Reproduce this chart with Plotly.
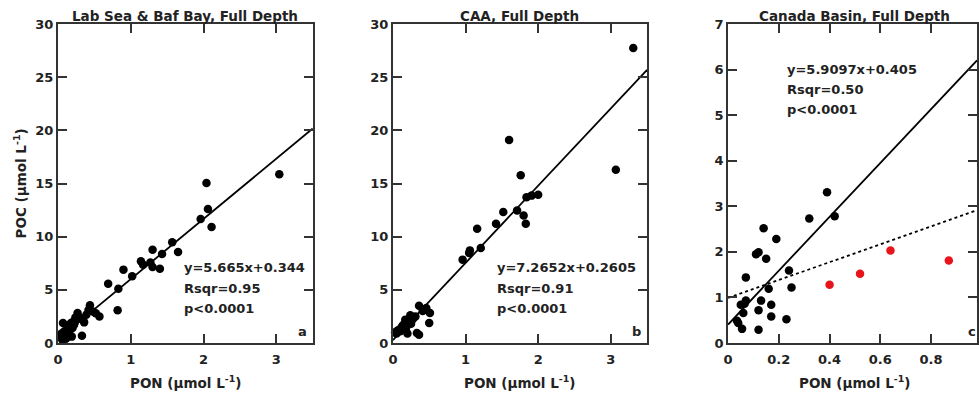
import plotly.graph_objects as go

# ---------------- data ----------------
a_pon = [2.04, 3.04, 2.06, 1.96, 2.11, 1.57, 1.43, 1.30, 1.65, 1.14,
         1.17, 1.27, 1.30, 1.40, 0.90, 1.02, 0.69, 0.83, 0.82, 0.44,
         0.48, 0.52, 0.57, 0.39, 0.36, 0.27, 0.25, 0.33, 0.18, 0.07,
         0.42, 0.31, 0.22, 0.20, 0.15, 0.12, 0.10, 0.08, 0.05, 0.14,
         0.17, 0.21, 0.24, 0.11, 0.09, 0.13, 0.16, 0.06, 0.19, 0.28,
         0.04, 0.23]
a_poc = [15.05, 15.86, 12.6, 11.66, 10.9, 9.47, 8.37, 8.78, 8.56, 7.68,
         7.37, 7.58, 7.15, 6.99, 6.9, 6.27, 5.58, 5.1, 3.07, 3.54,
         2.97, 2.8, 2.5, 2.66, 1.94, 2.82, 2.19, 0.69, 1.88, 1.88,
         3.1, 2.3, 1.7, 1.4, 1.6, 1.2, 0.8, 0.5, 0.9, 1.0,
         1.3, 2.0, 2.4, 0.4, 1.1, 0.7, 1.5, 0.3, 0.6, 2.5,
         0.6, 1.9]

b_pon = [3.31, 1.60, 1.76, 3.07, 1.84, 1.91, 2.00, 1.71, 1.52, 1.80,
         1.83, 1.42, 1.16, 1.21, 1.06, 1.05, 0.96, 0.36, 0.44, 0.51,
         0.46, 0.41, 0.50, 0.33, 0.36, 0.31, 0.27, 0.24, 0.22, 0.19,
         0.17, 0.15, 0.20, 0.12, 0.10, 0.07, 0.05, 0.03, 0.25, 0.29,
         0.18, 0.14]
b_poc = [27.75, 19.1, 15.77, 16.3, 13.7, 13.86, 13.95, 12.47, 12.32, 11.98,
         11.22, 11.22, 10.75, 8.93, 8.71, 8.47, 7.84, 3.51, 3.13, 2.82,
         3.29, 3.0, 1.88, 0.94, 0.78, 2.5, 2.2, 2.6, 1.9, 1.6,
         2.19, 1.3, 0.9, 1.5, 1.1, 1.2, 0.9, 1.0, 1.8, 2.4,
         1.4, 1.7]

c_pon = [0.39, 0.32, 0.42, 0.14, 0.19, 0.11, 0.12, 0.15, 0.24, 0.07,
         0.16, 0.25, 0.07, 0.13, 0.05, 0.065, 0.17, 0.12, 0.06, 0.17,
         0.23, 0.035, 0.04, 0.055, 0.12]
c_poc = [3.31, 2.73, 2.78, 2.52, 2.28, 1.95, 1.99, 1.85, 1.59, 1.44,
         1.19, 1.22, 0.93, 0.93, 0.84, 0.86, 0.84, 0.72, 0.66, 0.58,
         0.52, 0.49, 0.44, 0.31, 0.29]
c_red_pon = [0.40, 0.52, 0.64, 0.87]
c_red_poc = [1.28, 1.52, 2.03, 1.81]

titles = ["Lab Sea & Baf Bay, Full Depth", "CAA, Full Depth", "Canada Basin, Full Depth"]
fit_slope = [5.665, 7.2652, 5.9097]
fit_icept = [0.344, 0.2605, 0.405]
fit_text = [["y=5.665x+0.344", "Rsqr=0.95", "p<0.0001"],
            ["y=7.2652x+0.2605", "Rsqr=0.91", "p<0.0001"],
            ["y=5.9097x+0.405", "Rsqr=0.50", "p<0.0001"]]
all_slope = 1.96     # dotted fit, panel c (all points)
all_icept = 0.99
panel_letters = ["a", "b", "c"]

# ---------------- figure ----------------
W, H = 979, 393
FONT = "DejaVu Sans"
INK = "#222222"

fig = go.Figure()

xranges = [[0, 3.5], [0, 3.5], [0, 0.981]]
yranges = [[0, 30], [0, 30], [0, 7]]
domains = [[53.3 / W, 310 / W], [390.7 / W, 646.7 / W], [728.3 / W, 1.0]]

def add_fit(xr, slope, icept, xaxis, yaxis, dash="solid"):
    xs = [xr[0], xr[1]]
    ys = [slope * v + icept for v in xs]
    fig.add_trace(go.Scatter(x=xs, y=ys, mode="lines", xaxis=xaxis, yaxis=yaxis,
                             line=dict(color="black", width=1.8, dash=dash),
                             showlegend=False, hoverinfo="skip"))

def add_pts(xs, ys, xaxis, yaxis, color="black"):
    fig.add_trace(go.Scatter(x=xs, y=ys, mode="markers", xaxis=xaxis, yaxis=yaxis,
                             marker=dict(color=color, size=8.5, line=dict(width=0)),
                             cliponaxis=False, showlegend=False))

# panel a
add_fit(xranges[0], fit_slope[0], fit_icept[0], "x", "y")
add_pts(a_pon, a_poc, "x", "y")
# panel b
add_fit(xranges[1], fit_slope[1], fit_icept[1], "x2", "y2")
add_pts(b_pon, b_poc, "x2", "y2")
# panel c
add_fit(xranges[2], fit_slope[2], fit_icept[2], "x3", "y3")
add_fit(xranges[2], all_slope, all_icept, "x3", "y3", dash="dot")
add_pts(c_pon, c_poc, "x3", "y3")
add_pts(c_red_pon, c_red_poc, "x3", "y3", color="#e8141b")

tickfont = dict(family=FONT, size=13, color=INK, weight="bold")
axis_common = dict(showline=True, linecolor="#333333", linewidth=2, mirror="ticks",
                   ticks="inside", ticklen=9, tickwidth=2, tickcolor="#333333",
                   showgrid=False, zeroline=False, tickfont=tickfont)

layout = dict(width=W, height=H, margin=dict(l=0, r=0, t=24, b=50),
              paper_bgcolor="white", plot_bgcolor="white",
              font=dict(family=FONT, size=13, color=INK, weight="bold"),
              showlegend=False)
ynames = ["yaxis", "yaxis2", "yaxis3"]
xnames = ["xaxis", "xaxis2", "xaxis3"]
anchors_x = ["y", "y2", "y3"]
anchors_y = ["x", "x2", "x3"]
for i in range(3):
    layout[xnames[i]] = dict(domain=domains[i], range=xranges[i], anchor=anchors_x[i],
                             dtick=(1 if i < 2 else 0.2), ticklabelstandoff=3,
                             **axis_common)
    layout[ynames[i]] = dict(domain=[0, 1], range=yranges[i], anchor=anchors_y[i],
                             dtick=(5 if i < 2 else 1), **axis_common)
fig.update_layout(**layout)

ann = []
xr_names = ["x", "x2", "x3"]
yr_names = ["y", "y2", "y3"]
# titles and x-axis titles
for i in range(3):
    ann.append(dict(text=titles[i], xref=xr_names[i], yref="paper",
                    x=(xranges[0][1] / 2 if i < 2 else 0.5), y=1, xanchor="center",
                    yanchor="bottom", yshift=-2, showarrow=False,
                    font=dict(family=FONT, size=13.5, color=INK, weight="bold")))
    ann.append(dict(text="PON (\u03bcmol L<sup>-1</sup>)", xref=xr_names[i], yref="paper",
                    x=(xranges[0][1] / 2 if i < 2 else 0.5), y=0, yshift=-39,
                    xanchor="center", yanchor="middle", showarrow=False,
                    font=dict(family=FONT, size=13.5, color=INK, weight="bold")))
# fit stats
stat_pos = [(1.70, [7.11, 5.17, 3.29]), (1.40, [7.11, 5.17, 3.29]), (0.226, [6.0, 5.56, 5.12])]
for i in range(3):
    x0, ys = stat_pos[i]
    for j in range(3):
        ann.append(dict(text=fit_text[i][j], xref=xr_names[i], yref=yr_names[i],
                        x=x0, y=ys[j], xanchor="left", yanchor="middle", showarrow=False,
                        font=dict(family=FONT, size=13, color=INK, weight="bold")))
# panel letters
letter_x = [3.5, 3.5, 0.981]
letter_shift = [-4, -4, 1]
for i in range(3):
    ann.append(dict(text=panel_letters[i], xref=xr_names[i], yref=yr_names[i],
                    x=letter_x[i], y=yranges[i][0], xanchor="right", yanchor="bottom",
                    xshift=letter_shift[i], yshift=2, showarrow=False,
                    font=dict(family=FONT, size=13, color=INK, weight="bold")))
# y-axis title (panel a only)
ann.append(dict(text="POC (\u03bcmol L<sup>-1</sup>)", xref="paper", yref="y",
                x=15 / W, y=15, textangle=-90, xanchor="center", yanchor="middle",
                showarrow=False, font=dict(family=FONT, size=13.5, color=INK, weight="bold")))
fig.update_layout(annotations=ann)

fig.write_html("out.html")
